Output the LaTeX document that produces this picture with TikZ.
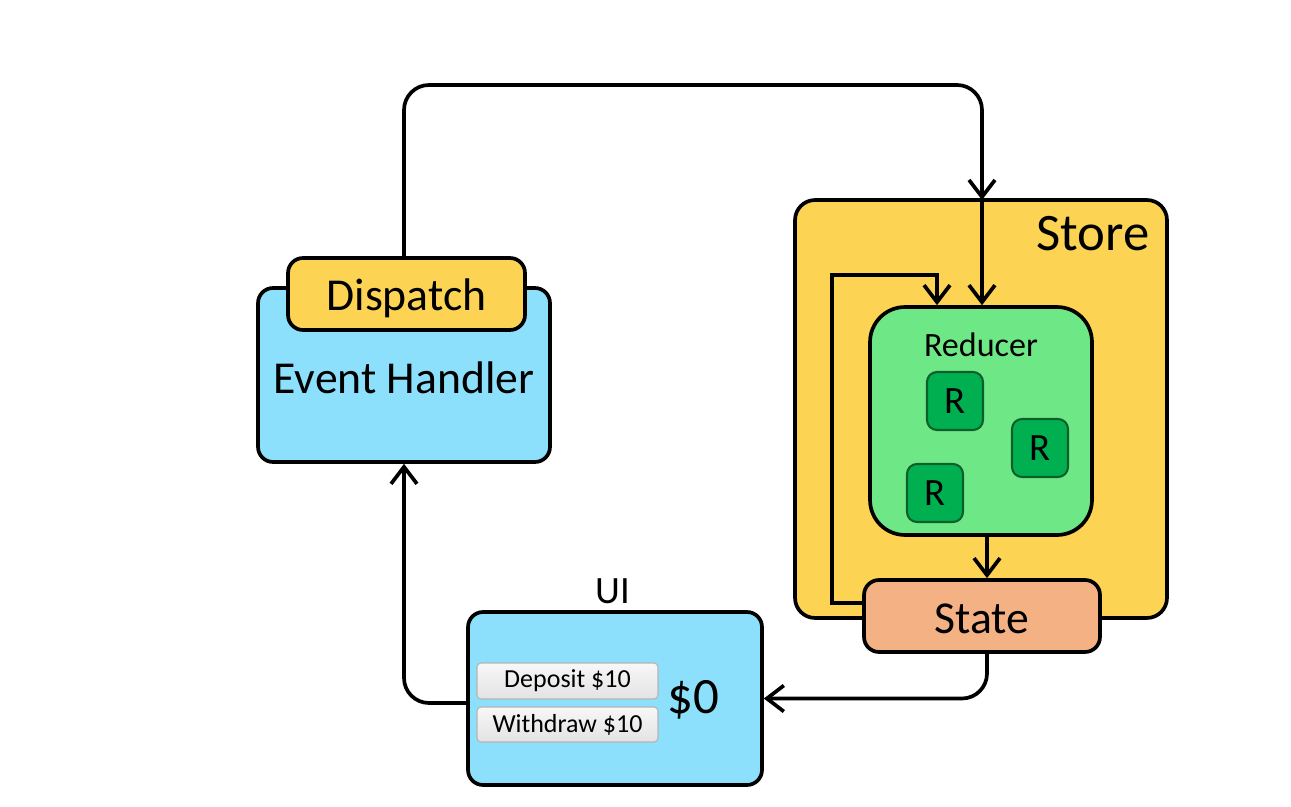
\documentclass[tikz,border=0pt]{standalone}
\usepackage{fontspec}
\setmainfont{Carlito}
\usetikzlibrary{arrows.meta,calc}
\definecolor{lblue}{HTML}{8DE0FC}
\definecolor{ylw}{HTML}{FCD352}
\definecolor{lgrn}{HTML}{6EE886}
\definecolor{dgrn}{HTML}{00B050}
\definecolor{dgrnb}{HTML}{0E5E2A}
\definecolor{orng}{HTML}{F4B183}
\definecolor{btnb}{HTML}{B5B5B5}
\newcommand{\fs}[1]{\fontsize{#1}{#1}\selectfont}
\tikzset{
  box/.style={draw=black, line width=2.1pt, rounded corners=0.3cm, inner sep=0pt},
  rbox/.style={draw=dgrnb, fill=dgrn, line width=1.2pt, rounded corners=0.2cm, minimum width=1.12cm, minimum height=1.16cm, inner sep=0pt, font=\fs{22pt}},
  btn/.style={draw=btnb, line width=0.6pt, rounded corners=0.08cm, top color=gray!6, bottom color=gray!22, minimum width=3.62cm, inner sep=0pt, font=\fs{14.8pt}},
  arr/.style={line width=2.1pt, -{Straight Barb[length=0.34cm, width=0.52cm, line width=2.1pt]}},
  lbl/.style={inner sep=0pt},
}
\begin{document}
\begin{tikzpicture}[x=0.02cm, y=-0.02cm]
\useasboundingbox (0,0) rectangle (1291,807);
% Store
\node[box, fill=ylw, rounded corners=0.4cm, minimum width=7.44cm, minimum height=8.36cm] (store) at (981,409) {};
\node[font=\fs{30pt}] (storet) at (1093,234) {Store};
% Reducer
\node[box, fill=lgrn, rounded corners=0.7cm, minimum width=4.44cm, minimum height=4.56cm] (red) at (981,421) {};
\node[font=\fs{19.4pt}] (redt) at (981,345) {Reducer};
\node[rbox] (r1) at (955,401) {R};
\node[rbox] (r2) at (1040,448) {R};
\node[rbox] (r3) at (935,493) {R};
% State
\node[box, fill=orng, minimum width=4.72cm, minimum height=1.44cm] (state) at (982,616) {};
\node[lbl, font=\fs{26pt}] (statet) at (982,619) {State};
% Event handler
\node[box, fill=lblue, minimum width=5.84cm, minimum height=3.48cm] (eh) at (404,375) {};
\node[lbl, font=\fs{26pt}] (eht) at (404,378) {Event Handler};
\node[box, fill=ylw, minimum width=4.74cm, minimum height=1.44cm] (disp) at (406.5,294) {};
\node[lbl, font=\fs{26pt}] (dispt) at (406.5,298) {Dispatch};
% UI
\node[box, fill=lblue, minimum width=5.88cm, minimum height=3.46cm] (ui) at (615,698.5) {};
\node[font=\fs{22pt}] (uit) at (613,591) {UI};
\node[btn, minimum height=0.72cm] (dep) at (567.5,681) {Deposit \$10};
\node[btn, minimum height=0.70cm] (wd) at (567.5,724.5) {Withdraw \$10};
\node[font=\fs{29pt}] (bal) at (693,700) {\$0};
% connectors
\coordinate (sin) at (982,200);
\coordinate (topr) at (982,85);
\draw[arr, rounded corners=0.5cm] ([xshift=-0.05cm]disp.north) |- (topr) -- (sin);
\draw[arr] (sin) -- (sin |- red.north);
\coordinate (ls) at (864,603);
\coordinate (lp) at (832,275);
\draw[arr] (ls) -| (lp) -| ([xshift=-0.88cm]red.north);
\draw[arr] ([xshift=0.12cm]red.south) -- ([xshift=0.12cm]red.south |- state.north);
\draw[arr, rounded corners=0.5cm] ([xshift=0.1cm]state.south) |- (ui.east);
\draw[arr, rounded corners=0.5cm] ([yshift=-0.09cm]ui.west) -| (eh.south);
\end{tikzpicture}
\end{document}
